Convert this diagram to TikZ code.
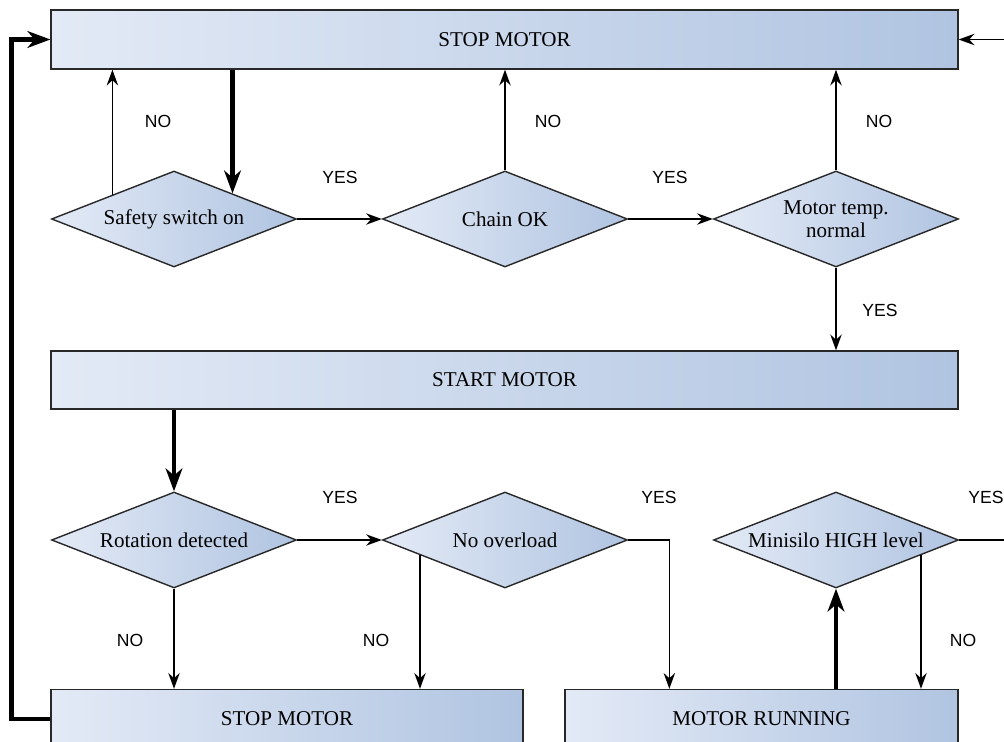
\documentclass[tikz,border=0pt]{standalone}
\usepackage{fontspec}
\setmainfont{Liberation Serif}
\setsansfont{Liberation Sans}
\usetikzlibrary{arrows.meta,shapes.geometric,calc}
\definecolor{boxleft}{RGB}{227,234,246}
\definecolor{boxright}{RGB}{176,196,225}
\definecolor{boxline}{RGB}{40,40,40}
\begin{document}
\begin{tikzpicture}[x=0.02cm,y=-0.02cm,
  >={Stealth[length=9pt,width=6.5pt,inset=3pt]},
  box/.style={rectangle,draw=boxline,line width=0.8pt,left color=boxleft,right color=boxright,minimum height=1.18cm,inner sep=0pt,font=\fontsize{12}{14}\selectfont},
  test/.style={diamond,aspect=2.55,draw=boxline,line width=0.8pt,left color=boxleft,right color=boxright,minimum width=4.9cm,minimum height=1.92cm,inner sep=0pt,align=center,font=\fontsize{12}{13}\selectfont},
  flow/.style={->,line width=0.75pt},
  main flow/.style={-{Stealth[length=13pt,width=9.5pt,inset=4pt]},line width=2.8pt},
  lbl/.style={font=\fontsize{10}{12}\selectfont\sffamily}]
\useasboundingbox (0,0) rectangle (1004,742);
\fill[white] (0,0) rectangle (1004,742);
\clip (0,0) rectangle (1004,742);
\node[box,minimum width=18.14cm] (stop1) at (504.5,39.5) {STOP MOTOR};
\node[test] (safe) at (174,219) {Safety switch on};
\node[test] (chain) at (505,219) {Chain OK};
\node[test] (temp) at (836,219) {Motor temp.\\normal};
\node[box,minimum width=18.14cm,minimum height=1.16cm] (start) at (504.5,380) {START MOTOR};
\node[test] (rot) at (174,540) {Rotation detected};
\node[test] (load) at (505,540) {No overload};
\node[test] (high) at (836,540) {Minisilo HIGH level};
\node[box,minimum width=9.44cm] (stop2) at (287,719) {STOP MOTOR};
\node[box,minimum width=7.86cm] (run) at (761.5,719) {MOTOR RUNNING};
\coordinate (safe in) at ($(safe.north)!0.475!(safe.east)$);
\coordinate (load out) at ($(load.west)!0.31!(load.south)$);
\coordinate (high out) at ($(high.east)!0.31!(high.south)$);
\coordinate (run in) at ($(run.north west)+(105,0)$);
\coordinate (high yes) at (1012,540);
\coordinate (back in) at (1012,39.5);
\draw[main flow] (safe in |- stop1.south) -- (safe in);
\draw[flow] (safe.north west) -- (safe.north west |- stop1.south);
\draw[flow] (safe.east) -- (chain.west);
\draw[flow] (chain.north) -- (stop1.south -| chain.north);
\draw[flow] (chain.east) -- (temp.west);
\draw[flow] (temp.north) -- (stop1.south -| temp.north);
\draw[flow] (temp.south) -- (start.north -| temp.south);
\draw[main flow] (start.south -| rot.north) -- (rot.north);
\draw[flow] (rot.east) -- (load.west);
\draw[flow] (rot.south) -- (stop2.north -| rot.south);
\draw[flow] (load out) -- (stop2.north -| load out);
\draw[flow] (load.east) -| (run in);
\draw[main flow] (high.south |- run.north) -- (high.south);
\draw[flow] (high out) -- (run.north -| high out);
\draw[line width=0.75pt] (high.east) -- (high yes);
\draw[flow] (back in) -- (stop1.east);
\draw[main flow] (stop2.west) -- ++(-39,0) |- (stop1.west);
\node[lbl] (no1) at (158,121) {NO};
\node[lbl] (no2) at (548,121) {NO};
\node[lbl] (no3) at (879,121) {NO};
\node[lbl] (yes1) at (340,177) {YES};
\node[lbl] (yes2) at (670,177) {YES};
\node[lbl] (yes3) at (880,310) {YES};
\node[lbl] (yes4) at (340,497) {YES};
\node[lbl] (yes5) at (659,497) {YES};
\node[lbl] (yes6) at (986,497) {YES};
\node[lbl] (no4) at (130,640) {NO};
\node[lbl] (no5) at (376,640) {NO};
\node[lbl] (no6) at (963,640) {NO};
\end{tikzpicture}
\end{document}
